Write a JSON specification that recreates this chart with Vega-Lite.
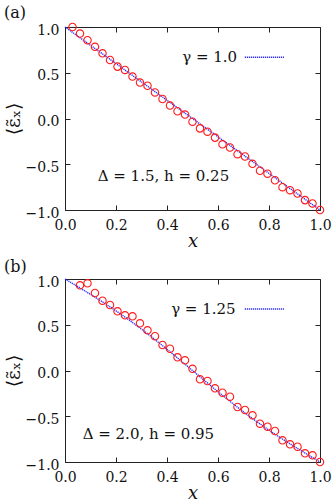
{
  "$schema": "https://vega.github.io/schema/vega-lite/v6.json",
  "padding": {"left": 4, "right": 0, "top": 5, "bottom": 0},
  "background": "white",
  "spacing": 9,
  "config": {
    "view": {"stroke": null},
    "font": "DejaVu Serif",
    "axis": {
      "grid": false,
      "domainColor": "#222",
      "domainWidth": 1,
      "tickColor": "#222",
      "tickSize": -5,
      "labelFont": "DejaVu Serif",
      "labelFontSize": 14,
      "labelColor": "#111",
      "labelFlush": false,
      "titleFont": "DejaVu Serif",
      "titleFontWeight": "normal",
      "titleColor": "#111"
    },
    "title": {"font": "DejaVu Serif", "fontWeight": "normal", "fontSize": 16, "color": "#111"}
  },
  "datasets": {
    "pts": [
      {"panel": "a", "x": 0.0294, "y": 1.0},
      {"panel": "a", "x": 0.0588, "y": 0.928},
      {"panel": "a", "x": 0.0882, "y": 0.856},
      {"panel": "a", "x": 0.1176, "y": 0.783},
      {"panel": "a", "x": 0.1471, "y": 0.712},
      {"panel": "a", "x": 0.1765, "y": 0.639},
      {"panel": "a", "x": 0.2059, "y": 0.567},
      {"panel": "a", "x": 0.2353, "y": 0.531},
      {"panel": "a", "x": 0.2647, "y": 0.458},
      {"panel": "a", "x": 0.2941, "y": 0.393},
      {"panel": "a", "x": 0.3235, "y": 0.358},
      {"panel": "a", "x": 0.3529, "y": 0.285},
      {"panel": "a", "x": 0.3824, "y": 0.213},
      {"panel": "a", "x": 0.4118, "y": 0.141},
      {"panel": "a", "x": 0.4412, "y": 0.079},
      {"panel": "a", "x": 0.4706, "y": 0.043},
      {"panel": "a", "x": 0.5, "y": -0.035},
      {"panel": "a", "x": 0.5294, "y": -0.108},
      {"panel": "a", "x": 0.5588, "y": -0.144},
      {"panel": "a", "x": 0.5882, "y": -0.209},
      {"panel": "a", "x": 0.6176, "y": -0.282},
      {"panel": "a", "x": 0.6471, "y": -0.317},
      {"panel": "a", "x": 0.6765, "y": -0.39},
      {"panel": "a", "x": 0.7059, "y": -0.415},
      {"panel": "a", "x": 0.7353, "y": -0.495},
      {"panel": "a", "x": 0.7647, "y": -0.571},
      {"panel": "a", "x": 0.7941, "y": -0.603},
      {"panel": "a", "x": 0.8235, "y": -0.675},
      {"panel": "a", "x": 0.8529, "y": -0.751},
      {"panel": "a", "x": 0.8824, "y": -0.783},
      {"panel": "a", "x": 0.9118, "y": -0.82},
      {"panel": "a", "x": 0.9412, "y": -0.892},
      {"panel": "a", "x": 0.9706, "y": -0.928},
      {"panel": "a", "x": 1.0, "y": -1.0},
      {"panel": "b", "x": 0.0588, "y": 0.931},
      {"panel": "b", "x": 0.0882, "y": 0.953},
      {"panel": "b", "x": 0.1176, "y": 0.847},
      {"panel": "b", "x": 0.1471, "y": 0.763},
      {"panel": "b", "x": 0.1765, "y": 0.716},
      {"panel": "b", "x": 0.2059, "y": 0.647},
      {"panel": "b", "x": 0.2353, "y": 0.603},
      {"panel": "b", "x": 0.2647, "y": 0.592},
      {"panel": "b", "x": 0.2941, "y": 0.516},
      {"panel": "b", "x": 0.3235, "y": 0.439},
      {"panel": "b", "x": 0.3529, "y": 0.374},
      {"panel": "b", "x": 0.3824, "y": 0.279},
      {"panel": "b", "x": 0.4118, "y": 0.238},
      {"panel": "b", "x": 0.4412, "y": 0.144},
      {"panel": "b", "x": 0.4706, "y": 0.111},
      {"panel": "b", "x": 0.5, "y": 0.018},
      {"panel": "b", "x": 0.5294, "y": -0.096},
      {"panel": "b", "x": 0.5588, "y": -0.115},
      {"panel": "b", "x": 0.5882, "y": -0.195},
      {"panel": "b", "x": 0.6176, "y": -0.243},
      {"panel": "b", "x": 0.6471, "y": -0.286},
      {"panel": "b", "x": 0.6765, "y": -0.399},
      {"panel": "b", "x": 0.7059, "y": -0.432},
      {"panel": "b", "x": 0.7353, "y": -0.49},
      {"panel": "b", "x": 0.7647, "y": -0.581},
      {"panel": "b", "x": 0.7941, "y": -0.614},
      {"panel": "b", "x": 0.8235, "y": -0.661},
      {"panel": "b", "x": 0.8529, "y": -0.763},
      {"panel": "b", "x": 0.8824, "y": -0.807},
      {"panel": "b", "x": 0.9118, "y": -0.833},
      {"panel": "b", "x": 0.9412, "y": -0.905},
      {"panel": "b", "x": 0.9706, "y": -0.927},
      {"panel": "b", "x": 1.0, "y": -1.0}
    ],
    "lines": [
      {"panel": "a", "x": 0.0, "y": 1.0},
      {"panel": "a", "x": 1.0, "y": -1.0},
      {"panel": "b", "x": 0.0, "y": 1.0},
      {"panel": "b", "x": 0.05, "y": 0.917},
      {"panel": "b", "x": 0.1, "y": 0.832},
      {"panel": "b", "x": 0.15, "y": 0.745},
      {"panel": "b", "x": 0.2, "y": 0.652},
      {"panel": "b", "x": 0.25, "y": 0.555},
      {"panel": "b", "x": 0.3, "y": 0.452},
      {"panel": "b", "x": 0.35, "y": 0.344},
      {"panel": "b", "x": 0.4, "y": 0.232},
      {"panel": "b", "x": 0.45, "y": 0.117},
      {"panel": "b", "x": 0.5, "y": 0.0},
      {"panel": "b", "x": 0.55, "y": -0.117},
      {"panel": "b", "x": 0.6, "y": -0.232},
      {"panel": "b", "x": 0.65, "y": -0.344},
      {"panel": "b", "x": 0.7, "y": -0.452},
      {"panel": "b", "x": 0.75, "y": -0.555},
      {"panel": "b", "x": 0.8, "y": -0.652},
      {"panel": "b", "x": 0.85, "y": -0.745},
      {"panel": "b", "x": 0.9, "y": -0.832},
      {"panel": "b", "x": 0.95, "y": -0.917},
      {"panel": "b", "x": 1.0, "y": -1.0}
    ],
    "labels": [
      {"panel": "a", "kind": "legend", "x": 0.675, "y": 0.67, "x2": 0.859, "xs": 0.705, "t": "γ = 1.0"},
      {"panel": "a", "kind": "note", "x": 0.386, "y": -0.63, "t": "Δ = 1.5, h = 0.25"},
      {"panel": "b", "kind": "legend", "x": 0.669, "y": 0.672, "x2": 0.859, "xs": 0.705, "t": "γ = 1.25"},
      {"panel": "b", "kind": "note", "x": 0.327, "y": -0.694, "t": "Δ = 2.0, h = 0.95"}
    ]
  },
  "vconcat": [
    {
      "width": 255,
      "height": 183,
      "title": {"text": "(a)", "anchor": "start", "frame": "bounds", "offset": 0},
      "resolve": {"axis": {"x": "independent", "y": "independent"}},
      "layer": [
        {
          "data": {"name": "lines"},
          "transform": [{"filter": "datum.panel === 'a'"}],
          "mark": {"type": "line", "color": "#2a2aff", "strokeWidth": 1.4, "strokeDash": [1.2, 0.8]},
          "encoding": {
            "x": {"field": "x", "type": "quantitative", "scale": {"domain": [0, 1], "nice": false, "zero": false},
                  "axis": {"orient": "bottom", "values": [0, 0.2, 0.4, 0.6, 0.8, 1.0], "format": ".1f", "title": "x", "titleFontStyle": "italic", "titleFontSize": 18, "labelPadding": 13, "titlePadding": 0}},
            "y": {"field": "y", "type": "quantitative", "scale": {"domain": [-1, 1], "nice": false, "zero": false},
                  "axis": {"orient": "left", "values": [-1, -0.5, 0, 0.5, 1], "format": ".1f", "title": "⟨ε̃ₓ⟩", "titleFontSize": 19, "labelPadding": 11, "labelOffset": 3, "titlePadding": 2}}
          }
        },
        {
          "data": {"name": "pts"},
          "transform": [{"filter": "datum.panel === 'a'"}],
          "mark": {"type": "point", "shape": "circle", "size": 55, "filled": false, "stroke": "#ff1a1a", "strokeWidth": 1.1, "opacity": 1, "clip": false},
          "encoding": {
            "x": {"field": "x", "type": "quantitative", "scale": {"domain": [0, 1], "nice": false, "zero": false},
                  "axis": {"orient": "top", "values": [0, 0.2, 0.4, 0.6, 0.8, 1.0], "labels": false, "title": null}},
            "y": {"field": "y", "type": "quantitative", "scale": {"domain": [-1, 1], "nice": false, "zero": false},
                  "axis": {"orient": "right", "values": [-1, -0.5, 0, 0.5, 1], "labels": false, "title": null}}
          }
        },
        {
          "data": {"name": "labels"},
          "transform": [{"filter": "datum.panel === 'a' && datum.kind === 'legend'"}],
          "mark": {"type": "text", "align": "right", "baseline": "middle", "fontSize": 15, "font": "DejaVu Serif", "color": "#111"},
          "encoding": {
            "x": {"field": "x", "type": "quantitative", "axis": null},
            "y": {"field": "y", "type": "quantitative", "axis": null},
            "text": {"field": "t"}
          }
        },
        {
          "data": {"name": "labels"},
          "transform": [{"filter": "datum.panel === 'a' && datum.kind === 'legend'"}],
          "mark": {"type": "rule", "color": "#2a2aff", "strokeWidth": 1.4, "strokeDash": [1.2, 0.8]},
          "encoding": {
            "x": {"field": "xs", "type": "quantitative", "axis": null},
            "x2": {"field": "x2"},
            "y": {"field": "y", "type": "quantitative", "axis": null}
          }
        },
        {
          "data": {"name": "labels"},
          "transform": [{"filter": "datum.panel === 'a' && datum.kind === 'note'"}],
          "mark": {"type": "text", "align": "center", "baseline": "middle", "fontSize": 15, "font": "DejaVu Serif", "color": "#111"},
          "encoding": {
            "x": {"field": "x", "type": "quantitative", "axis": null},
            "y": {"field": "y", "type": "quantitative", "axis": null},
            "text": {"field": "t"}
          }
        }
      ]
    },
    {
      "width": 255,
      "height": 183,
      "title": {"text": "(b)", "anchor": "start", "frame": "bounds", "offset": 0},
      "resolve": {"axis": {"x": "independent", "y": "independent"}},
      "layer": [
        {
          "data": {"name": "lines"},
          "transform": [{"filter": "datum.panel === 'b'"}],
          "mark": {"type": "line", "color": "#2a2aff", "strokeWidth": 1.4, "strokeDash": [1.2, 0.8]},
          "encoding": {
            "x": {"field": "x", "type": "quantitative", "scale": {"domain": [0, 1], "nice": false, "zero": false},
                  "axis": {"orient": "bottom", "values": [0, 0.2, 0.4, 0.6, 0.8, 1.0], "format": ".1f", "title": "x", "titleFontStyle": "italic", "titleFontSize": 18, "labelPadding": 13, "titlePadding": 0}},
            "y": {"field": "y", "type": "quantitative", "scale": {"domain": [-1, 1], "nice": false, "zero": false},
                  "axis": {"orient": "left", "values": [-1, -0.5, 0, 0.5, 1], "format": ".1f", "title": "⟨ε̃ₓ⟩", "titleFontSize": 19, "labelPadding": 11, "labelOffset": 3, "titlePadding": 2}}
          }
        },
        {
          "data": {"name": "pts"},
          "transform": [{"filter": "datum.panel === 'b'"}],
          "mark": {"type": "point", "shape": "circle", "size": 55, "filled": false, "stroke": "#ff1a1a", "strokeWidth": 1.1, "opacity": 1, "clip": false},
          "encoding": {
            "x": {"field": "x", "type": "quantitative", "scale": {"domain": [0, 1], "nice": false, "zero": false},
                  "axis": {"orient": "top", "values": [0, 0.2, 0.4, 0.6, 0.8, 1.0], "labels": false, "title": null}},
            "y": {"field": "y", "type": "quantitative", "scale": {"domain": [-1, 1], "nice": false, "zero": false},
                  "axis": {"orient": "right", "values": [-1, -0.5, 0, 0.5, 1], "labels": false, "title": null}}
          }
        },
        {
          "data": {"name": "labels"},
          "transform": [{"filter": "datum.panel === 'b' && datum.kind === 'legend'"}],
          "mark": {"type": "text", "align": "right", "baseline": "middle", "fontSize": 15, "font": "DejaVu Serif", "color": "#111"},
          "encoding": {
            "x": {"field": "x", "type": "quantitative", "axis": null},
            "y": {"field": "y", "type": "quantitative", "axis": null},
            "text": {"field": "t"}
          }
        },
        {
          "data": {"name": "labels"},
          "transform": [{"filter": "datum.panel === 'b' && datum.kind === 'legend'"}],
          "mark": {"type": "rule", "color": "#2a2aff", "strokeWidth": 1.4, "strokeDash": [1.2, 0.8]},
          "encoding": {
            "x": {"field": "xs", "type": "quantitative", "axis": null},
            "x2": {"field": "x2"},
            "y": {"field": "y", "type": "quantitative", "axis": null}
          }
        },
        {
          "data": {"name": "labels"},
          "transform": [{"filter": "datum.panel === 'b' && datum.kind === 'note'"}],
          "mark": {"type": "text", "align": "center", "baseline": "middle", "fontSize": 15, "font": "DejaVu Serif", "color": "#111"},
          "encoding": {
            "x": {"field": "x", "type": "quantitative", "axis": null},
            "y": {"field": "y", "type": "quantitative", "axis": null},
            "text": {"field": "t"}
          }
        }
      ]
    }
  ]
}
